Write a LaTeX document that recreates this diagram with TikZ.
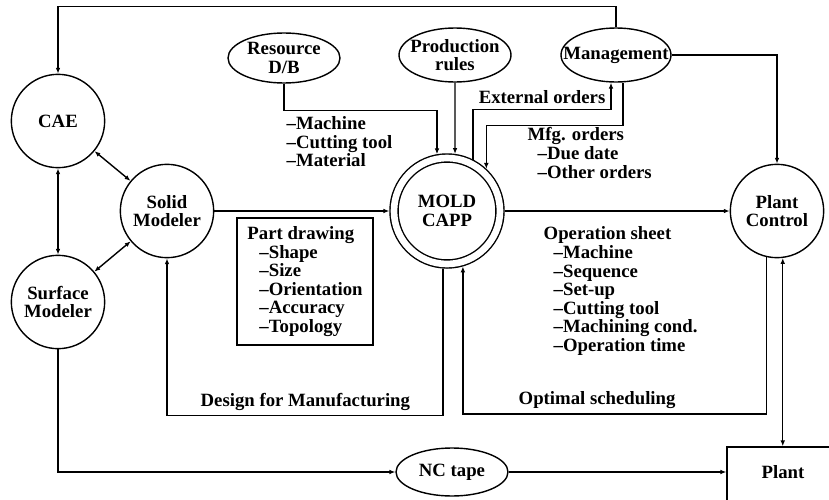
\documentclass[tikz,border=0pt]{standalone}
\usepackage{fontspec}
\setmainfont{Liberation Serif}
\usetikzlibrary{shapes.geometric, arrows.meta, positioning}

\begin{document}
\begin{tikzpicture}[>={Latex[length=5pt,width=4pt]}, x=0.03cm, y=-0.03cm,
  font=\bfseries\fontsize{16}{15.8}\selectfont, line width=1.2pt,
  proc/.style={circle,draw,minimum size=2.8cm,inner sep=0pt,align=center},
  store/.style={ellipse,draw,inner sep=0pt,label={[align=center]center:#1}},
  txt/.style={anchor=west,align=left,inner sep=0pt}]
\useasboundingbox (0,0) rectangle (829,500);

% Modelers
\node[proc] (cae) at (58,121) {CAE};
\node[proc] (solid) at (167,211) {Solid\\Modeler};
\node[proc] (surf) at (58,302) {Surface\\Modeler};
% MOLD CAPP (double ring) and Plant Control
\node[proc,double,double distance=0.2cm,minimum size=3.18cm,outer sep=0.14cm] (capp) at (447,211) {MOLD\\CAPP};
\node[proc] (pc) at (777,211) {Plant\\Control};
% Data bases / rules / management
\node[store={Resource\\D/B},minimum width=3.36cm,minimum height=1.5cm] (res) at (284,58) {};
\node[store={Production\\rules},minimum width=3.36cm,minimum height=1.62cm] (prod) at (455,55) {};
\node[store={Management},minimum width=3.3cm,minimum height=1.62cm] (mgmt) at (616,55) {};
\node[ellipse,draw,inner sep=0pt,minimum width=3.36cm,minimum height=1.44cm] (nc) at (452,472) {NC tape};
% Plant box, running off the page
\node[draw,inner sep=0pt,text height=0.93cm,text depth=2cm,minimum width=3.36cm,anchor=base] (plant) at (783,478) {Plant};

% Part drawing box
\node[draw,align=left,minimum width=4.08cm,minimum height=3.81cm] (part) at (305,281.5)
  {Part drawing\\\hspace*{0.36cm}--Shape\\\hspace*{0.36cm}--Size\\\hspace*{0.36cm}--Orientation\\\hspace*{0.36cm}--Accuracy\\\hspace*{0.36cm}--Topology};

% Texts
\node[txt] (resitems) at (286,142) {--Machine\\--Cutting tool\\--Material};
\node[txt,anchor=east] (ext) at (606,97) {External orders};
\node[txt] (mfg) at (527,153) {Mfg. orders\\\hspace*{0.3cm}--Due date\\\hspace*{0.3cm}--Other orders};
\node[txt] (opsheet) at (543,291) {Operation sheet\\\hspace*{0.3cm}--Machine\\\hspace*{0.3cm}--Sequence\\\hspace*{0.3cm}--Set-up\\\hspace*{0.3cm}--Cutting tool\\\hspace*{0.3cm}--Machining cond.\\\hspace*{0.3cm}--Operation time};
\node[txt] (dfm) at (200,402) {Design for Manufacturing};
\node[txt] (optsch) at (518,400) {Optimal scheduling};

% Modeler links
\draw[->] (mgmt.north) -- ++(0,-21) -| (cae.north);
\draw[<->] (cae) -- (surf);
\draw[<->] (cae) -- (solid);
\draw[<->] (surf) -- (solid);
\draw[->] (solid) -- (capp);
\draw[->] (capp) -- (pc);
% Inputs to MOLD CAPP
\draw[->] (res.south) -- ++(0,27) -| (capp.100);
\draw[->] (prod.south) -- (capp.82);
\draw[->] (capp.63) -- ++(0,-50) -| ([xshift=-0.15cm]mgmt.south);
\draw[->] ([xshift=0.21cm]mgmt.south) -- ++(0,43) -| (capp.47);
\draw[->] (mgmt.east) -| (pc.north);
% Feedback loops
\draw[->] (pc.257) -- ++(0,157) -| (capp.286);
\draw[->] (capp.266) -- ++(0,147) -| (solid.south);
% Plant side
\draw[<->] (pc.277) -- (pc.277 |- plant.north);
\draw[->] (surf.south) |- (nc.west);
\draw[->] (nc.east) -- (nc.east -| plant.west);
\end{tikzpicture}
\end{document}
